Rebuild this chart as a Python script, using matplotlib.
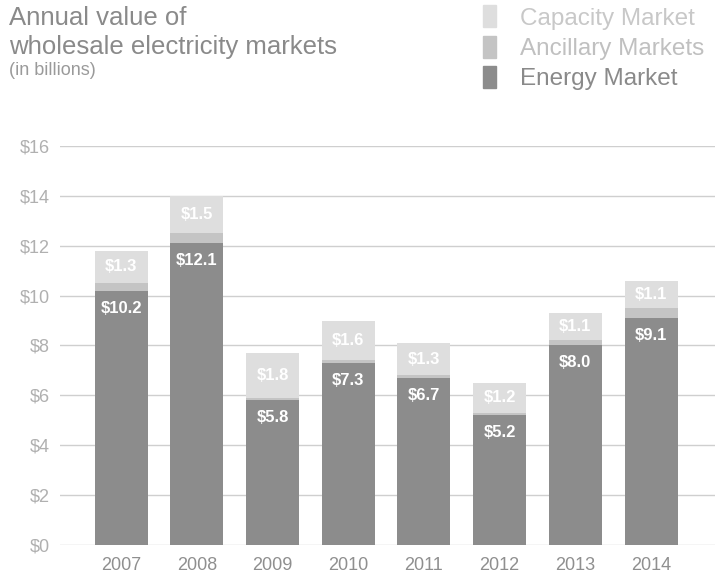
import matplotlib
matplotlib.use('Agg')
from matplotlib import pyplot as plt
from matplotlib.patches import Patch
import numpy as np

plt.rcParams['font.family'] = ['Liberation Sans', 'DejaVu Sans']

# values in billions
years = ['2007', '2008', '2009', '2010', '2011', '2012', '2013', '2014']
energy = [10.2, 12.1, 5.8, 7.3, 6.7, 5.2, 8.0, 9.1]
ancillary = [0.3, 0.4, 0.1, 0.1, 0.1, 0.1, 0.2, 0.4]
capacity = [1.3, 1.5, 1.8, 1.6, 1.3, 1.2, 1.1, 1.1]
yticks = [0, 2, 4, 6, 8, 10, 12, 14, 16]

c_energy = '#8c8c8c'
c_anc = '#c4c4c4'
c_cap = '#dedede'

fig = plt.figure(figsize=(7.23, 5.77), dpi=100)
ax = fig.add_axes([0.083, 0.0555, 0.906, 0.6915])

x = np.arange(len(years))
energy = np.array(energy)
ancillary = np.array(ancillary)
capacity = np.array(capacity)

ax.bar(x, energy, width=0.7, color=c_energy, zorder=2)
ax.bar(x, ancillary, width=0.7, bottom=energy, color=c_anc, zorder=2)
ax.bar(x, capacity, width=0.7, bottom=energy + ancillary, color=c_cap, zorder=2)

for i in range(len(years)):
    ax.text(x[i], energy[i] - 0.7, '$%.1f' % energy[i], ha='center', va='center',
            color='white', fontsize=12, fontweight='bold', zorder=3)
    ax.text(x[i], energy[i] + ancillary[i] + capacity[i] / 2, '$%.1f' % capacity[i],
            ha='center', va='center', color='white', fontsize=12, fontweight='bold', zorder=3)

ax.set_xlim(-0.806, 7.845)
ax.set_ylim(0, 16)
ax.set_yticks(yticks)
ax.set_yticklabels(['$%d' % v for v in yticks])
ax.set_xticks(x)
ax.set_xticklabels(years)
ax.tick_params(axis='y', length=0, pad=7, labelsize=13, labelcolor='#b0b0b0')
ax.tick_params(axis='x', length=0, pad=9, labelsize=13, labelcolor='#8f8f8f')
ax.yaxis.grid(True, color='#cfcfcf', lw=1, zorder=0)
for s in ax.spines.values():
    s.set_visible(False)

fig.text(0.012, 0.99, 'Annual value of\nwholesale electricity markets', ha='left', va='top',
         fontsize=18.5, color='#8a8a8a', linespacing=1.3)
fig.text(0.012, 0.893, '(in billions)', ha='left', va='top', fontsize=13, color='#9a9a9a')

handles = [Patch(color=c_cap), Patch(color=c_anc), Patch(color=c_energy)]
fig.legend(handles, ['Capacity Market', 'Ancillary Markets', 'Energy Market'],
           loc='upper left', bbox_to_anchor=(0.645, 1.02), frameon=False, fontsize=17.5,
           labelcolor=['#c8c8c8', '#c0c0c0', '#8a8a8a'], handlelength=0.5,
           handleheight=1.0, handletextpad=1.0, labelspacing=0.25, borderpad=0.2)

fig.savefig('out.png', dpi=100)
